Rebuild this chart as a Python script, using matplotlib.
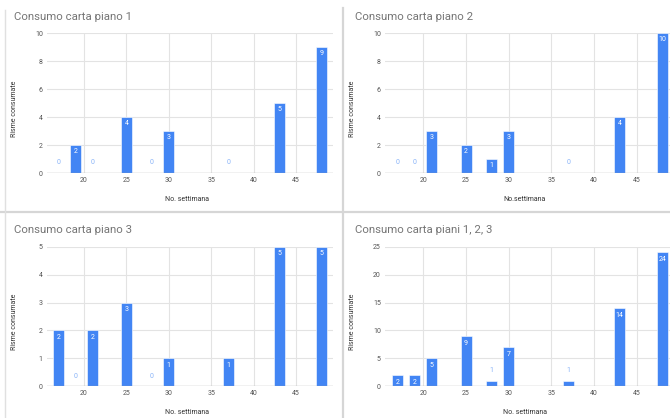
import matplotlib.pyplot as plt
import numpy as np
from matplotlib.lines import Line2D

W, H = 670, 418

weeks = [17, 19, 21, 25, 28, 30, 37, 43, 48]
piano1 = [0, 2, 0, 4, 0, 3, 0, 5, 9]
piano2 = [0, 0, 3, 2, 1, 3, 0, 4, 10]
piano3 = [2, 0, 2, 3, 0, 1, 1, 5, 5]
totale = [2, 2, 5, 9, 1, 7, 1, 14, 24]

titles = ['Consumo carta piano 1', 'Consumo carta piano 2',
          'Consumo carta piano 3', 'Consumo carta piani 1, 2, 3']
xlabels = ['No. settimana', 'No.settimana', 'No. settimana', 'No. settimana']
ylabel = 'Risme consumate'
xticks = [20, 25, 30, 35, 40, 45]
yticks = [[0, 2, 4, 6, 8, 10], [0, 2, 4, 6, 8, 10],
          [0, 1, 2, 3, 4, 5], [0, 5, 10, 15, 20, 25]]

BLUE = '#4285f4'
LIGHT = '#8ab4f8'

plt.rcParams['font.family'] = ['Roboto', 'DejaVu Sans']


def rect(l, t, r, b):
    return [l / W, 1 - b / H, (r - l) / W, (b - t) / H]


# pixel boxes of the plot areas (left, top, right, bottom)
boxes = [(47, 33, 333, 173), (385, 33, 670, 173),
         (47, 246.7, 333, 386.3), (385, 246.7, 670, 386.3)]
xlims = [(15.64, 49.36), (15.5, 48.9), (15.64, 49.36), (15.5, 48.9)]
title_pos = [(14, 17), (355, 17), (14, 230), (355, 230)]
series = [piano1, piano2, piano3, totale]

fig = plt.figure(figsize=(W / 100, H / 100), dpi=100)

for i in range(4):
    l, t, r, b = boxes[i]
    ax = fig.add_axes(rect(l, t, r, b))
    vals = series[i]
    ymax = yticks[i][-1]
    ax.set_xlim(*xlims[i])
    ax.set_ylim(0, ymax)
    ax.bar(weeks, vals, width=1.3, color=BLUE, edgecolor='white',
           linewidth=0.4, zorder=3)
    ax.set_xticks(xticks)
    ax.set_yticks(yticks[i])
    ax.grid(True, color='#e3e3e3', linewidth=0.8, zorder=0)
    ax.axhline(0, color='#9e9e9e', linewidth=0.9, zorder=4)
    for s in ax.spines.values():
        s.set_visible(False)
    ax.tick_params(length=0, labelsize=5, colors='#555555', pad=3)
    ax.set_xlabel(xlabels[i], fontsize=5, color='#333333')
    ax.set_ylabel(ylabel, fontsize=5, color='#333333')
    ax.xaxis.set_label_coords(0.49, -0.165)
    ax.yaxis.set_label_coords(-0.103, 0.46)

    px_per_unit = (b - t) / ymax
    for x, v in zip(weeks, vals):
        if v * px_per_unit > 10:
            ax.annotate(str(v), (x, v), xytext=(0, -2.5),
                        textcoords='offset points', ha='center', va='top',
                        fontsize=5, color='white', zorder=5)
        else:
            ax.annotate(str(v), (x, v), xytext=(0, 7.2),
                        textcoords='offset points', ha='center',
                        va='center', fontsize=5, color=LIGHT, zorder=5)

    tx, ty = title_pos[i]
    fig.text(tx / W, 1 - ty / H, titles[i], fontsize=8.2, color='#757575',
             ha='left', va='center')

# dividers between the four charts
sep = '#d6d6d6'
fig.add_artist(Line2D([0, 1], [1 - 212 / H, 1 - 212 / H], color=sep,
                      linewidth=1.6, transform=fig.transFigure))
fig.add_artist(Line2D([343 / W, 343 / W], [0, 1 - 8 / H], color=sep,
                      linewidth=1.6, transform=fig.transFigure))
fig.add_artist(Line2D([4.5 / W, 4.5 / W], [0, 1 - 10 / H], color='#e0e0e0',
                      linewidth=1.0, transform=fig.transFigure))

fig.savefig('out.png', dpi=100)
